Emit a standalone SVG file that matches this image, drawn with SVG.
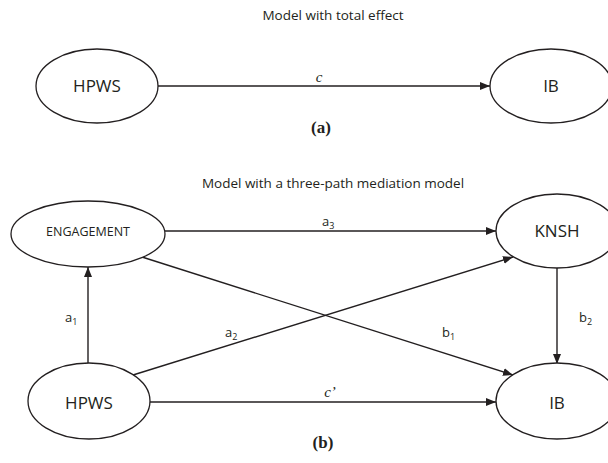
<svg xmlns="http://www.w3.org/2000/svg" width="608" height="463" viewBox="0 0 608 463">
<defs>
<style>
.bg{fill:#ffffff}
.node{fill:#ffffff;stroke:#231f20;stroke-width:1.3}
.edge{stroke:#231f20;stroke-width:1.4;fill:none;marker-end:url(#arr)}
.t{font-family:"Open Sans","Liberation Sans",sans-serif;fill:#231f20}
.title{font-size:13.5px;text-anchor:middle}
.lbl{font-size:17px;text-anchor:middle}
.small{font-size:12.5px;text-anchor:middle}
.path{font-size:13px}
.sub{font-size:9px}
.it{font-family:"Liberation Serif","Times New Roman",serif;font-style:italic;font-size:15px;fill:#231f20;text-anchor:middle}
.cap{font-family:"Liberation Serif","Times New Roman",serif;font-weight:bold;font-size:17px;fill:#231f20;text-anchor:middle}
</style>
<marker id="arr" markerWidth="10" markerHeight="8" refX="10" refY="4" orient="auto" markerUnits="userSpaceOnUse">
<path d="M0,0 L10,4 L0,8 z" fill="#231f20"/>
</marker>
</defs>
<rect class="bg" x="0" y="0" width="608" height="463"/>

<text class="t title" x="333" y="20">Model with total effect</text>
<text class="t title" x="333" y="188">Model with a three-path mediation model</text>

<g id="connectors">
<line class="edge" x1="158" y1="86" x2="490" y2="86"/>
<line class="edge" x1="165" y1="231" x2="496" y2="231"/>
<line class="edge" x1="88" y1="364" x2="88" y2="267"/>
<line class="edge" x1="133" y1="375" x2="513" y2="257"/>
<line class="edge" x1="142" y1="257" x2="513" y2="375"/>
<line class="edge" x1="557" y1="268" x2="557" y2="364"/>
<line class="edge" x1="150" y1="402" x2="496" y2="402"/>
<text class="it" x="319" y="82">c</text>
<text class="t path" x="322" y="226">a<tspan class="sub" dy="3">3</tspan></text>
<text class="t path" x="65" y="322">a<tspan class="sub" dy="3">1</tspan></text>
<text class="t path" x="225" y="337">a<tspan class="sub" dy="3">2</tspan></text>
<text class="t path" x="442" y="337">b<tspan class="sub" dy="3">1</tspan></text>
<text class="t path" x="579" y="322">b<tspan class="sub" dy="3">2</tspan></text>
<text class="it" x="330" y="397">c’</text>
</g>

<g id="hpws-a">
<ellipse class="node" cx="97" cy="86" rx="61" ry="37"/>
<text class="t lbl" x="97" y="92">HPWS</text>
</g>
<g id="ib-a">
<ellipse class="node" cx="551" cy="86" rx="61" ry="37"/>
<text class="t lbl" x="551" y="92">IB</text>
</g>
<text class="cap" x="321" y="133">(a)</text>

<g id="engagement">
<ellipse class="node" cx="88" cy="234" rx="77" ry="33"/>
<text class="t small" x="88" y="236">ENGAGEMENT</text>
</g>
<g id="knsh">
<ellipse class="node" cx="557" cy="231" rx="61" ry="37"/>
<text class="t lbl" x="557" y="237">KNSH</text>
</g>
<g id="hpws-b">
<ellipse class="node" cx="89" cy="401" rx="61" ry="38"/>
<text class="t lbl" x="89" y="409">HPWS</text>
</g>
<g id="ib-b">
<ellipse class="node" cx="557" cy="401" rx="61" ry="38"/>
<text class="t lbl" x="557" y="409">IB</text>
</g>
<text class="cap" x="323" y="448">(b)</text>
</svg>
